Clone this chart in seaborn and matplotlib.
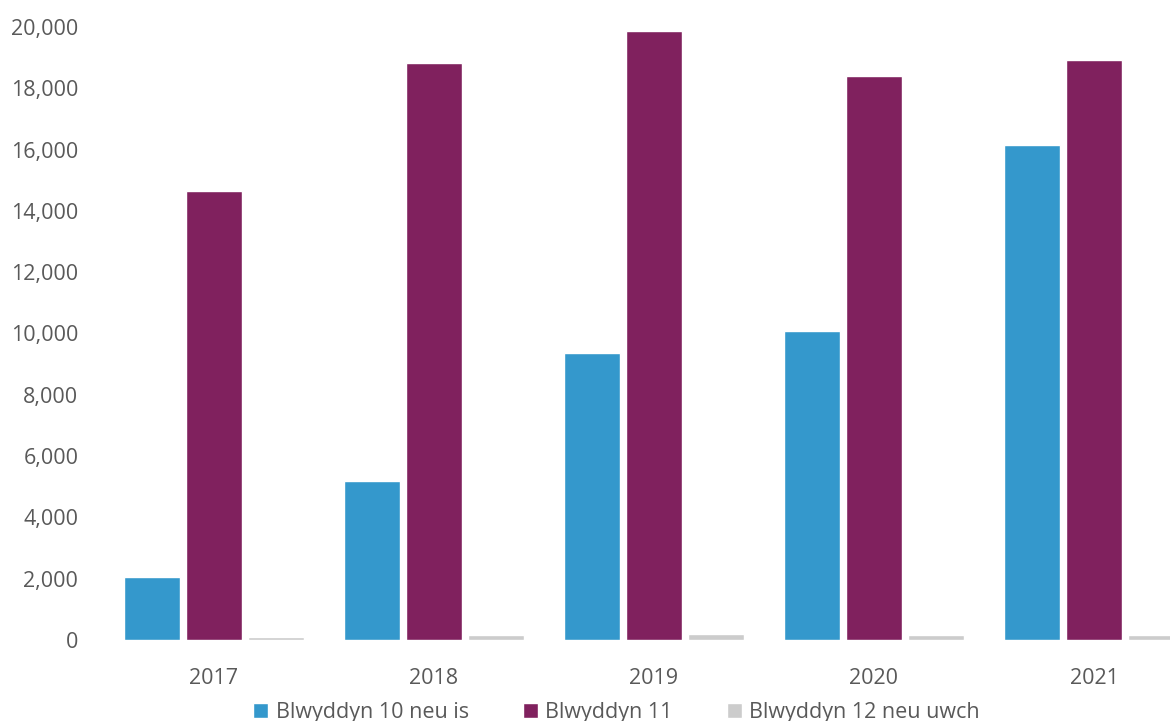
import pandas as pd
import matplotlib.pyplot as plt
import seaborn as sns
from matplotlib.ticker import FuncFormatter

years = ["2017", "2018", "2019", "2020", "2021"]
series_names = ["Blwyddyn 10 neu is", "Blwyddyn 11", "Blwyddyn 12 neu uwch"]
year10 = [2060, 5190, 9360, 10080, 16150]
year11 = [14650, 18820, 19870, 18400, 18930]
year12 = [100, 160, 190, 160, 170]
colors = ["#3498CC", "#80215E", "#CCCCCC"]

rows = []
for name, vals in zip(series_names, [year10, year11, year12]):
    for yr, v in zip(years, vals):
        rows.append({"year": yr, "group": name, "value": v})
df = pd.DataFrame(rows)

sns.set_style("white")
plt.rcParams["font.family"] = ["Open Sans", "DejaVu Sans"]

fig = plt.figure(figsize=(11.7, 7.21), dpi=100)
ax = fig.add_axes([104 / 1170, 81 / 721, 1100 / 1170, 613 / 721])

sns.barplot(data=df, x="year", y="value", hue="group", order=years,
            hue_order=series_names, palette=colors, width=0.845, gap=0.1,
            saturation=1, ax=ax, legend=True)

ax.set_ylim(0, 20000)
ax.set_xlim(-0.5, 4.5)
ax.set_yticks(range(0, 20001, 2000))
ax.yaxis.set_major_formatter(FuncFormatter(lambda v, p: f"{int(v):,}"))
ax.set_xlabel("")
ax.set_ylabel("")
ax.tick_params(axis="both", length=0, labelsize=15.5, colors="#595959")
ax.tick_params(axis="x", pad=20)
ax.tick_params(axis="y", pad=18.5)
for s in ax.spines.values():
    s.set_visible(False)

handles, labels = ax.get_legend_handles_labels()
ax.get_legend().remove()
fig.legend(handles, labels, loc="lower center", bbox_to_anchor=(0.527, -0.03),
           ncol=3, frameon=False, fontsize=15.5, handlelength=0.7,
           handleheight=0.7, handletextpad=0.35, columnspacing=2.5,
           labelcolor="#595959")

fig.savefig("out.png", dpi=100)
